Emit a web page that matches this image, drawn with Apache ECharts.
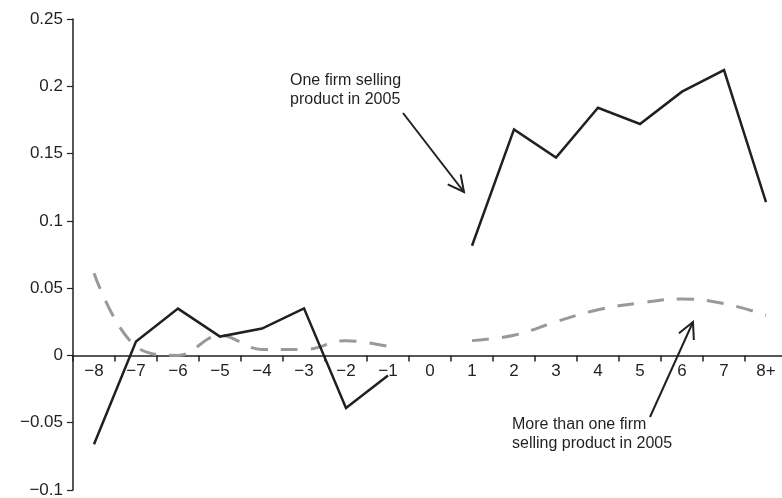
<!DOCTYPE html>
<html>
<head>
<meta charset="utf-8">
<script src="https://cdn.jsdelivr.net/npm/echarts@6/dist/echarts.min.js"></script>
<style>
  html, body { margin: 0; padding: 0; background: #fff; }
  #chart { width: 782px; height: 498px; }
</style>
</head>
<body>
<div id="chart"></div>
<script>
// years relative to entry
const categories = ['−8', '−7', '−6', '−5', '−4', '−3', '−2', '−1', '0', '1', '2', '3', '4', '5', '6', '7', '8+'];

// one firm selling product in 2005 (solid)
const oneFirm = [-0.066, 0.0104, 0.0348, 0.014, 0.02, 0.035, -0.039, -0.015, null,
  0.0815, 0.168, 0.147, 0.184, 0.172, 0.196, 0.212, 0.114];

// more than one firm selling product in 2005 (dashed)
const manyFirms = [0.061, 0.0067, 0, 0.015, 0.0044, 0.0044, 0.011, 0.0067, null,
  0.011, 0.015, 0.025, 0.034, 0.039, 0.042, 0.0385, 0.030];

const yTicks = { min: -0.1, max: 0.25, interval: 0.05 };

const INK = '#231f20';
const FONT = '"Liberation Sans", Arial, Helvetica, sans-serif';

const GRID = { left: 73, right: -5, top: 19, bottom: 8 };
const plotH = 498 - GRID.top - GRID.bottom;
// x axis sits on y = 0: shift it up from the grid bottom
const zeroShift = plotH * (0 - yTicks.min) / (yTicks.max - yTicks.min);

// open V arrow head
function arrow(x1, y1, x2, y2) {
  const back = Math.atan2(y1 - y2, x1 - x2);
  const len = 18, spread = 27 * Math.PI / 180;
  const a1 = [x2 + len * Math.cos(back - spread), y2 + len * Math.sin(back - spread)];
  const a2 = [x2 + len * Math.cos(back + spread), y2 + len * Math.sin(back + spread)];
  const style = { stroke: INK, lineWidth: 2, fill: null };
  return [
    { type: 'line', shape: { x1, y1, x2, y2 }, style },
    { type: 'polyline', shape: { points: [a1, [x2, y2], a2] }, style }
  ];
}

function note(left, top, text) {
  return {
    type: 'text', left, top,
    style: { text, fill: INK, font: '16px ' + FONT, lineHeight: 19 }
  };
}

const chart = echarts.init(document.getElementById('chart'));

chart.setOption({
  animation: false,
  grid: Object.assign({ containLabel: false, outerBoundsMode: 'none' }, GRID),
  textStyle: { fontFamily: FONT },
  xAxis: {
    type: 'category',
    data: categories,
    boundaryGap: true,
    offset: -zeroShift,
    axisLine: { onZero: false, lineStyle: { color: INK, width: 1.5 } },
    axisTick: { show: true, inside: false, interval: 0, alignWithLabel: false, length: 6,
      lineStyle: { color: INK, width: 1.5 } },
    axisLabel: { interval: 0, margin: 7, fontSize: 17, color: INK, fontFamily: FONT }
  },
  yAxis: {
    type: 'value',
    min: yTicks.min,
    max: yTicks.max,
    interval: yTicks.interval,
    splitLine: { show: false },
    axisLine: { show: true, onZero: false, lineStyle: { color: INK, width: 1.5 } },
    axisTick: { show: true, length: 6, lineStyle: { color: INK, width: 1.2 } },
    axisLabel: {
      margin: 10, fontSize: 17, color: INK, fontFamily: FONT,
      formatter: (v) => {
        const r = Math.round(v * 100) / 100;
        return r === 0 ? '0' : String(r).replace('-', '−');
      }
    }
  },
  series: [
    {
      name: 'More than one firm selling product in 2005',
      type: 'line',
      data: manyFirms,
      symbol: 'none',
      smooth: 0.4,
      connectNulls: false,
      lineStyle: { color: '#999999', width: 3, type: [17, 13], cap: 'butt' },
      z: 2
    },
    {
      name: 'One firm selling product in 2005',
      type: 'line',
      data: oneFirm,
      symbol: 'none',
      connectNulls: false,
      lineStyle: { color: INK, width: 2.5, join: 'miter' },
      z: 3
    }
  ],
  graphic: [
    note(290, 71, 'One firm selling\nproduct in 2005'),
    ...arrow(403, 113, 464, 192),
    note(512, 415, 'More than one firm\nselling product in 2005'),
    ...arrow(650, 417, 693, 322)
  ]
});

window.addEventListener('resize', () => chart.resize());
</script>
</body>
</html>
